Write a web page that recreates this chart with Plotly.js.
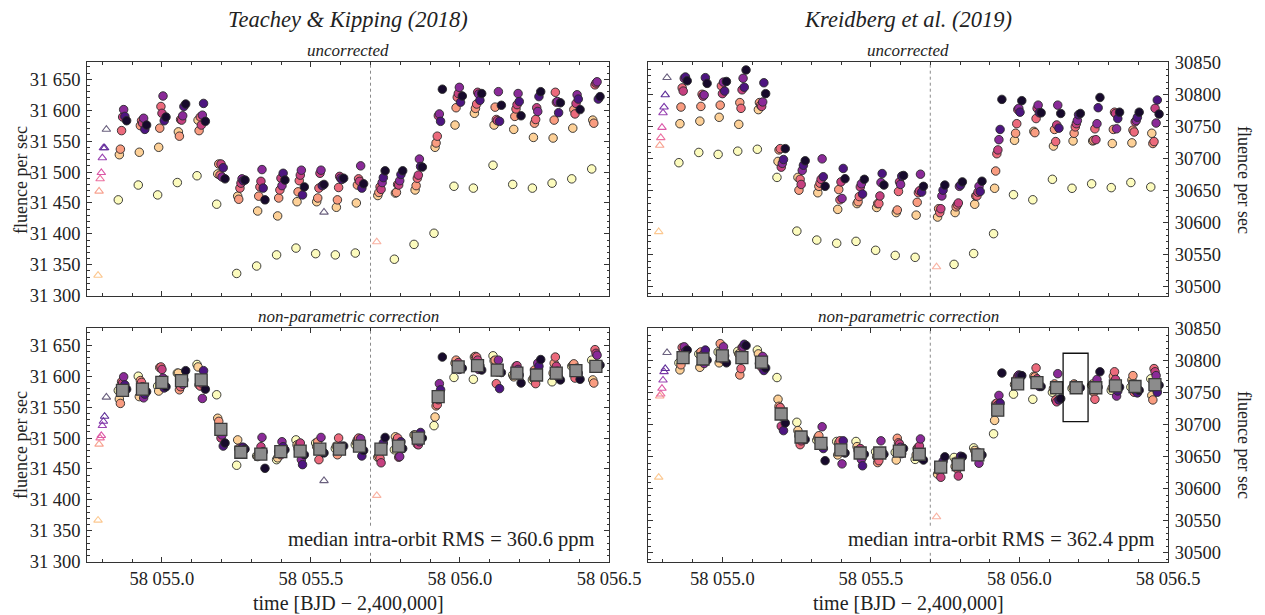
<!DOCTYPE html>
<html>
<head>
<meta charset="utf-8">
<script src="https://cdn.plot.ly/plotly-3.0.1.min.js"></script>
<style>html,body{margin:0;padding:0;background:#fff}#plot{width:1265px;height:615px}</style>
</head>
<body>
<div id="plot"></div>
<script>
// ---------------- DATA ----------------
// start time of each HST orbit (BJD - 2,400,000)
const orbitT = [58054.854, 58054.921, 58054.986, 58055.052, 58055.118, 58055.184, 58055.251, 58055.318,
  58055.385, 58055.450, 58055.516, 58055.582, 58055.649, 58055.721, 58055.780, 58055.846, 58055.913,
  58055.980, 58056.045, 58056.111, 58056.177, 58056.243, 58056.309, 58056.375, 58056.442];
const firstOrbitT = 58054.786;              // discarded first orbit
const expOffset = [0, 0.0035, 0.007, 0.011, 0.0145, 0.018, 0.022, 0.028]; // exposure times within orbit (days)
const binOffset = 0.014;                    // orbit-mean time offset
const transitMid = 58055.70;

// Teachey & Kipping (2018) uncorrected: rows = orbits, columns = exposure index 0..7
const tkRaw = [
 [31455,31528,31537,31567,31589,31601,31590,31583],
 [31479,31532,31575,31583,31579,31587,31569,31576],
 [31463,31540,31571,31606,31595,31623,31583,31589],
 [31483,31565,31558,31585,31584,31591,31606,31610],
 [31494,31584,31567,31589,31576,31592,31611,31582],
 [31448,31497,31513,31495,31513,31492,31507,31489],
 [31336,31461,31456,31474,31482,31489,31486,31487],
 [31348,31437,31461,31476,31485,31504,31474,31455],
 [31366,31429,31458,31471,31490,31478,31498,31487],
 [31377,31452,31468,31486,31495,31503,31463,31476],
 [31368,31452,31458,31474,31498,31503,31478,31480],
 [31366,31443,31455,31475,31493,31490,31488,31490],
 [31369,31450,31479,31489,31485,31510,31474,31481],
 [null,31462,31467,31476,31472,31483,31491,31502],
 [31359,31466,31467,31480,31479,31486,31496,31502],
 [31383,31471,31478,31490,31495,31521,31509,31508],
 [31401,31540,31547,31558,31591,31594,31582,31634],
 [31477,31576,31604,31621,31627,31637,31613,31623],
 [31474,31595,31603,31610,31629,31626,31616,31627],
 [31511,31576,31605,31585,31583,31630,31582,31608],
 [31480,31569,31590,31602,31609,31627,31614,31591],
 [31474,31556,31579,31585,31604,31598,31622,31630],
 [31482,31555,31584,31629,31613,31614,31596,31612],
 [31489,31571,31601,31594,31611,31625,31618,31601],
 [31505,31584,31579,31641,31644,31646,31618,31622]
];
// Teachey & Kipping (2018) non-parametric correction
const tkCorr = [
 [31577,31563,31556,31591,31589,31599,31586,31579],
 [31600,31567,31593,31590,31583,31565,31571,31575],
 [31584,31576,31614,31615,31611,31597,31581,31583],
 [31605,31605,31578,31583,31591,31587,31594,31609],
 [31619,31615,31586,31584,31589,31564,31609,31579],
 [31570,31532,31527,31508,31500,31505,31487,31492],
 [31456,31497,31483,31481,31476,31485,31485,31482],
 [31471,31470,31475,31478,31486,31501,31478,31451],
 [31465,31468,31478,31481,31473,31494,31486,31481],
 [31497,31489,31483,31490,31492,31465,31457,31473],
 [31492,31486,31494,31465,31482,31501,31478,31476],
 [31483,31487,31473,31500,31481,31487,31485,31487],
 [31489,31493,31497,31500,31490,31499,31471,31480],
 [null,31469,31471,31467,31460,31486,31492,31501],
 [31481,31502,31496,31500,31469,31470,31494,31483],
 [31505,31505,31498,31490,31489,31494,31509,31500],
 [31520,31534,31552,31554,31562,31588,31578,31631],
 [31598,31621,31626,31618,31622,31611,31616,31613],
 [31595,31631,31632,31631,31626,31611,31617,31610],
 [31633,31625,31626,31588,31607,31626,31580,31606],
 [31602,31599,31606,31616,31617,31611,31602,31589],
 [31594,31597,31610,31588,31607,31621,31616,31627],
 [31591,31605,31621,31631,31616,31608,31598,31594],
 [31616,31618,31620,31597,31607,31613,31605,31595],
 [31626,31594,31589,31643,31637,31634,31616,31618]
];
const tkBin = [31577,31579,31590,31593,31594,31514,31477,31474,31478,31479,31482,31482,31487,
  31482,31487,31500,31567,31615,31617,31610,31605,31602,31605,31609,31616];

// Kreidberg et al. (2019) uncorrected
const krRaw = [
 [30694,30755,30781,30811,30806,30826,30828,30822],
 [30710,30759,30782,30801,30798,30800,30827,30818],
 [30707,30765,30784,30814,30802,30820,30806,30821],
 [30712,30754,30788,30779,30808,30826,30812,30839],
 [30715,30777,30788,30784,30782,30789,30819,30802],
 [30671,30696,30714,30716,30687,30693,30699,30716],
 [30587,30671,30651,30668,30660,30682,30690,30697],
 [30573,30647,30657,30662,30668,30700,30672,30657],
 [30568,30621,30652,30636,30664,30638,30685,30669],
 [30571,30630,30633,30641,30656,30661,30645,30668],
 [30557,30624,30630,30630,30642,30663,30677,30659],
 [30549,30616,30620,30649,30664,30660,30673,30674],
 [30546,30612,30632,30647,30650,30676,30648,30657],
 [null,30609,30622,30616,30622,30642,30651,30659],
 [30535,30616,30625,30628,30631,30657,30659,30664],
 [30552,30629,30642,30642,30648,30657,30649,30665],
 [30583,30654,30681,30708,30714,30730,30746,30793],
 [30644,30729,30740,30755,30777,30779,30773,30791],
 [30636,30743,30741,30763,30779,30784,30772,30772],
 [30668,30720,30746,30727,30753,30784,30748,30771],
 [30654,30728,30740,30750,30755,30760,30769,30771],
 [30661,30728,30729,30747,30730,30755,30780,30796],
 [30655,30724,30746,30773,30771,30747,30763,30773],
 [30663,30725,30745,30742,30758,30760,30765,30773],
 [30656,30740,30724,30727,30779,30756,30792,30770]
];
// Kreidberg et al. (2019) non-parametric correction
const krCorr = [
 [30797,30786,30794,30821,30814,30822,30815,30817],
 [30811,30790,30814,30808,30810,30796,30817,30801],
 [30814,30797,30827,30814,30803,30822,30808,30797],
 [30815,30811,30778,30788,30821,30822,30826,30824],
 [30817,30811,30796,30802,30790,30807,30785,30789],
 [30774,30740,30729,30727,30698,30713,30691,30703],
 [30704,30691,30683,30669,30675,30680,30681,30677],
 [30676,30680,30683,30671,30667,30697,30663,30644],
 [30674,30653,30672,30675,30660,30639,30675,30656],
 [30674,30666,30660,30657,30663,30646,30636,30654],
 [30658,30650,30641,30644,30656,30675,30658,30654],
 [30657,30645,30679,30672,30670,30665,30655,30663],
 [30646,30653,30663,30665,30667,30678,30648,30645],
 [null,30623,30630,30627,30618,30635,30643,30650],
 [30649,30635,30643,30631,30620,30643,30651,30650],
 [30664,30660,30653,30653,30657,30640,30650,30653],
 [30686,30707,30733,30734,30731,30746,30734,30781],
 [30748,30763,30767,30772,30776,30778,30777,30777],
 [30740,30776,30775,30789,30772,30767,30760,30760],
 [30751,30757,30764,30739,30736,30780,30739,30741],
 [30757,30759,30764,30762,30759,30757,30760,30758],
 [30762,30764,30751,30740,30757,30771,30759,30783],
 [30754,30758,30776,30783,30771,30745,30753,30759],
 [30759,30770,30777,30751,30754,30757,30750,30754],
 [30772,30746,30739,30788,30783,30777,30751,30762]
];
const krBin = [30805,30803,30808,30805,30798,30717,30681,30671,30661,30656,30656,30659,30654,
  30634,30638,30653,30723,30764,30766,30758,30758,30758,30761,30760,30763];

// discarded exposures (open triangles): first orbit, exposure index 0..7
const tkRawFirst  = [31333,31469,31489,31499,31523,31539,31539,31569];
const tkCorrFirst = [31367,31490,31500,31504,31520,31527,31535,31566];
const krRawFirst  = [30586,30721,30733,30749,30772,30781,30800,30827];
const krCorrFirst = [30618,30745,30748,30757,30770,30783,30788,30813];
// other discarded exposures: [orbit index, exposure index, value]
const tkRawFlag  = [[10,7,31435],[13,0,31387]];
const tkCorrFlag = [[10,7,31431],[13,0,31407]];
const krRawFlag  = [[13,0,30531]];
const krCorrFlag = [[13,0,30556]];

const tkRMS = 360.6, krRMS = 362.4;
const leftTicks = [31300,31350,31400,31450,31500,31550,31600,31650];
const rightTicks = [30500,30550,30600,30650,30700,30750,30800,30850];

// ---------------- STYLE ----------------
const W = 1265, H = 615;
const FONT = '"Liberation Serif", "DejaVu Serif", serif';
const TXT = '#222';
const palette = ['#fcfbbd','#fdd097','#f99c80','#ec6a7c','#c5407f','#8a2a98','#4d1580','#170a2c'];
const triPalette = ['#fcc890','#f7a290','#ec70a0','#db58a8','#9a45b2','#7a36a8','#5e2f98','#6a607e'];
const fx = p => p / W, fy = p => 1 - p / H;

const panels = [
  {xa:'x',  ya:'y',  rows: tkRaw,  first: tkRawFirst,  flag: tkRawFlag},
  {xa:'x2', ya:'y2', rows: krRaw,  first: krRawFirst,  flag: krRawFlag},
  {xa:'x3', ya:'y3', rows: tkCorr, first: tkCorrFirst, flag: tkCorrFlag, bin: tkBin},
  {xa:'x4', ya:'y4', rows: krCorr, first: krCorrFirst, flag: krCorrFlag, bin: krBin}
];

const traces = [];
panels.forEach(p => {
  const tx = [], ty = [], tc = [];
  p.first.forEach((v, j) => { tx.push(firstOrbitT + expOffset[j]); ty.push(v); tc.push(triPalette[j]); });
  p.flag.forEach(f => { tx.push(orbitT[f[0]] + expOffset[f[1]]); ty.push(f[2]); tc.push(f[1] === 0 ? '#f9b3a3' : triPalette[f[1]]); });
  traces.push({type:'scatter', mode:'markers', xaxis:p.xa, yaxis:p.ya, x:tx, y:ty, hoverinfo:'skip',
    marker:{symbol:'triangle-up-open', size:7.5, color:tc, line:{width:1.1, color:tc}}});
  for (let j = 0; j < 8; j++) {
    const x = [], y = [];
    p.rows.forEach((r, k) => { if (r[j] !== null) { x.push(orbitT[k] + expOffset[j]); y.push(r[j]); } });
    traces.push({type:'scatter', mode:'markers', xaxis:p.xa, yaxis:p.ya, x, y, hoverinfo:'skip',
      marker:{symbol:'circle', size:8.5, color:palette[j], line:{width:0.9, color:'#2a2a2a'}}});
  }
  if (p.bin) {
    traces.push({type:'scatter', mode:'markers', xaxis:p.xa, yaxis:p.ya,
      x: orbitT.map(t => t + binOffset), y: p.bin, hoverinfo:'skip',
      marker:{symbol:'square', size:12, color:'#8c8c8c', line:{width:1.3, color:'#3a3a3a'}}});
  }
});

const TICKSZ = 18.5;
const xBase = {range:[58054.75, 58056.5], tick0:58055, dtick:0.5, ticks:'inside', ticklen:5, tickwidth:1,
  tickcolor:'#333', showline:true, linecolor:'#333', linewidth:1, mirror:'ticks', showgrid:false, zeroline:false,
  minor:{dtick:0.1, ticks:'inside', ticklen:3, tickcolor:'#333', showgrid:false},
  tickfont:{family:FONT, size:TICKSZ, color:TXT}, tickformat:',.1f'};
const yBase = {dtick:50, ticks:'inside', ticklen:5, tickwidth:1, tickcolor:'#333', showline:true,
  linecolor:'#333', linewidth:1, mirror:'ticks', showgrid:false, zeroline:false,
  minor:{dtick:10, ticks:'inside', ticklen:2.5, tickcolor:'#333', showgrid:false},
  tickfont:{family:FONT, size:TICKSZ, color:TXT}, ticklabelstandoff:2};

const LX = [fx(87.3), fx(609)], RX = [fx(648), fx(1168)];
const TY = [fy(295.7), fy(62.3)], BY = [fy(561.7), fy(328.3)];
const LR = [31300, 31677.5], RR = [30486, 30851];

const layout = {
  width:W, height:H, margin:{l:0, r:0, t:0, b:0}, paper_bgcolor:'#fff', plot_bgcolor:'#fff',
  showlegend:false, separators:'.\u2005', font:{family:FONT, color:TXT},
  xaxis:  Object.assign({}, xBase, {domain:LX, anchor:'y',  showticklabels:false}),
  xaxis2: Object.assign({}, xBase, {domain:RX, anchor:'y2', showticklabels:false}),
  xaxis3: Object.assign({}, xBase, {domain:LX, anchor:'y3'}),
  xaxis4: Object.assign({}, xBase, {domain:RX, anchor:'y4'}),
  yaxis:  Object.assign({}, yBase, {domain:TY, anchor:'x',  range:LR, tickvals:leftTicks, tickformat:','}),
  yaxis2: Object.assign({}, yBase, {domain:TY, anchor:'x2', range:RR, side:'right', tickvals:rightTicks, tickformat:'d'}),
  yaxis3: Object.assign({}, yBase, {domain:BY, anchor:'x3', range:LR, tickvals:leftTicks, tickformat:','}),
  yaxis4: Object.assign({}, yBase, {domain:BY, anchor:'x4', range:RR, side:'right', tickvals:rightTicks, tickformat:'d'}),
  shapes: [],
  annotations: []
};
['x','x2','x3','x4'].forEach((xa, i) => {
  const ya = ['y','y2','y3','y4'][i];
  layout.shapes.push({type:'line', xref:xa, yref:ya + ' domain', x0:transitMid, x1:transitMid, y0:0, y1:1,
    layer:'below', line:{color:'#8a8a8a', width:1, dash:'3px,3px'}});
});
// highlighted orbit box (Kreidberg corrected)
layout.shapes.push({type:'rect', xref:'x4', yref:'y4', x0:58056.147, x1:58056.231, y0:30705, y1:30812,
  layer:'above', line:{color:'#111', width:1.3}, fillcolor:'rgba(0,0,0,0)'});

function ann(text, x, y, size, opts) {
  layout.annotations.push(Object.assign({text, xref:'paper', yref:'paper', x:fx(x), y:fy(y),
    xanchor:'center', yanchor:'middle', showarrow:false, font:{family:FONT, size, color:TXT}}, opts || {}));
}
ann('<i>Teachey &amp; Kipping (2018)</i>', 348, 20, 22.5);
ann('<i>Kreidberg et al. (2019)</i>', 908, 20, 22.5);
ann('<i>uncorrected</i>', 348, 50, 17);
ann('<i>uncorrected</i>', 908, 50, 17);
ann('<i>non-parametric correction</i>', 348, 316, 17);
ann('<i>non-parametric correction</i>', 908, 316, 17);
ann('fluence per sec', 21, 180, 18, {textangle:-90});
ann('fluence per sec', 21, 445, 18, {textangle:-90});
ann('fluence per sec', 1244, 180, 18, {textangle:90});
ann('fluence per sec', 1244, 445, 18, {textangle:90});
ann('time [BJD \u2212 2,400,000]', 348, 603, 20);
ann('time [BJD \u2212 2,400,000]', 908, 603, 20);
ann('median intra-orbit RMS = ' + tkRMS.toFixed(1) + ' ppm', 597, 539, 20.5, {xanchor:'right', bgcolor:'#fff'});
ann('median intra-orbit RMS = ' + krRMS.toFixed(1) + ' ppm', 1157, 539, 20.5, {xanchor:'right', bgcolor:'#fff'});

Plotly.newPlot('plot', traces, layout, {staticPlot:true, displayModeBar:false});
</script>
</body>
</html>
